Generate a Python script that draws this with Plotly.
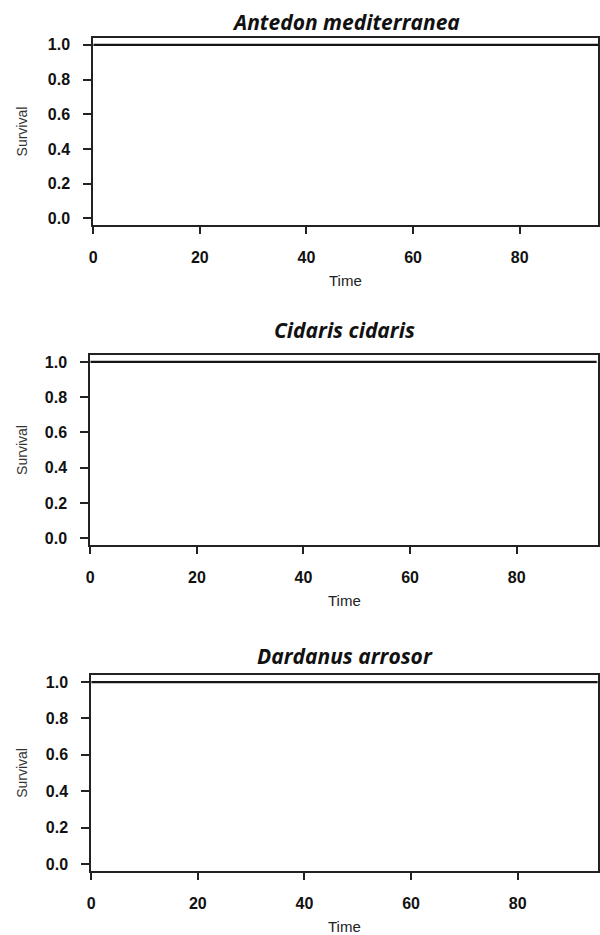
import plotly.graph_objects as go

species = ["Antedon mediterranea", "Cidaris cidaris", "Dardanus arrosor"]
time_points = [0, 95]
survival_antedon = [1.0, 1.0]
survival_cidaris = [1.0, 1.0]
survival_dardanus = [1.0, 1.0]
x_ticks = [0, 20, 40, 60, 80]
y_ticks = [0.0, 0.2, 0.4, 0.6, 0.8, 1.0]
y_tick_labels = ["0.0", "0.2", "0.4", "0.6", "0.8", "1.0"]

series = [survival_antedon, survival_cidaris, survival_dardanus]

W, H = 600, 935
# panel pixel geometry: (left, right, top, bottom)
panels = [(90, 599, 37, 225), (87, 599, 355, 546), (88, 599, 676, 873)]
title_y = [21.5, 330.5, 657]

fig = go.Figure()
annotations = []
layout_axes = {}
for i, (name, surv, (l, r, t, b)) in enumerate(zip(species, series, panels)):
    n = "" if i == 0 else str(i + 1)
    xa, ya = "x" + n, "y" + n
    fig.add_trace(go.Scatter(x=time_points, y=surv, mode="lines",
                             line=dict(color="#151515", width=2.2, shape="hv"),
                             xaxis=xa, yaxis=ya, showlegend=False, hoverinfo="skip"))
    xrange_max = (r - l) / 5.375
    layout_axes["xaxis" + n] = dict(
        domain=[l / W, r / W], range=[0, xrange_max], anchor=ya,
        tickvals=x_ticks, ticks="outside", ticklen=7, tickwidth=1.5, tickcolor="#222",
        showline=True, linewidth=2, linecolor="#222", mirror=True,
        showgrid=False, zeroline=False, ticklabelstandoff=10,
        tickfont=dict(family="Liberation Sans, Arial", size=16, color="#111", weight="bold"),
    )
    layout_axes["yaxis" + n] = dict(
        domain=[1 - b / H, 1 - t / H], range=[-0.04, 1.04], anchor=xa,
        tickvals=y_ticks, ticktext=y_tick_labels, ticks="outside", ticklen=8, tickwidth=1.5,
        tickcolor="#222", showline=True, linewidth=2, linecolor="#222", mirror=True,
        showgrid=False, zeroline=False, ticklabelstandoff=10,
        tickfont=dict(family="Liberation Sans, Arial", size=16, color="#111", weight="bold"),
    )
    annotations.append(dict(text="<b><i>%s</i></b>" % name, xref="paper", yref="paper",
                            x=(l + r) / 2 / W, y=1 - title_y[i] / H, showarrow=False,
                            xanchor="center", yanchor="middle",
                            font=dict(family="Open Sans", size=21, color="#111")))
    annotations.append(dict(text="Time", xref="paper", yref="paper",
                            x=(l + r) / 2 / W, y=1 - (b + 55) / H, showarrow=False,
                            xanchor="center", yanchor="middle",
                            font=dict(family="Liberation Sans, Arial", size=15, color="#222")))
    annotations.append(dict(text="Survival", xref="paper", yref="paper",
                            x=18 / W, y=1 - ((t + b) / 2) / H, showarrow=False, textangle=-90,
                            xanchor="center", yanchor="middle",
                            font=dict(family="Liberation Sans, Arial", size=14, color="#333")))

fig.update_layout(width=W, height=H, margin=dict(l=0, r=0, t=0, b=0),
                  plot_bgcolor="white", paper_bgcolor="white",
                  annotations=annotations, **layout_axes)
fig.write_html("out.html", config={"displayModeBar": False},
               post_script="document.body.style.margin='0';")
